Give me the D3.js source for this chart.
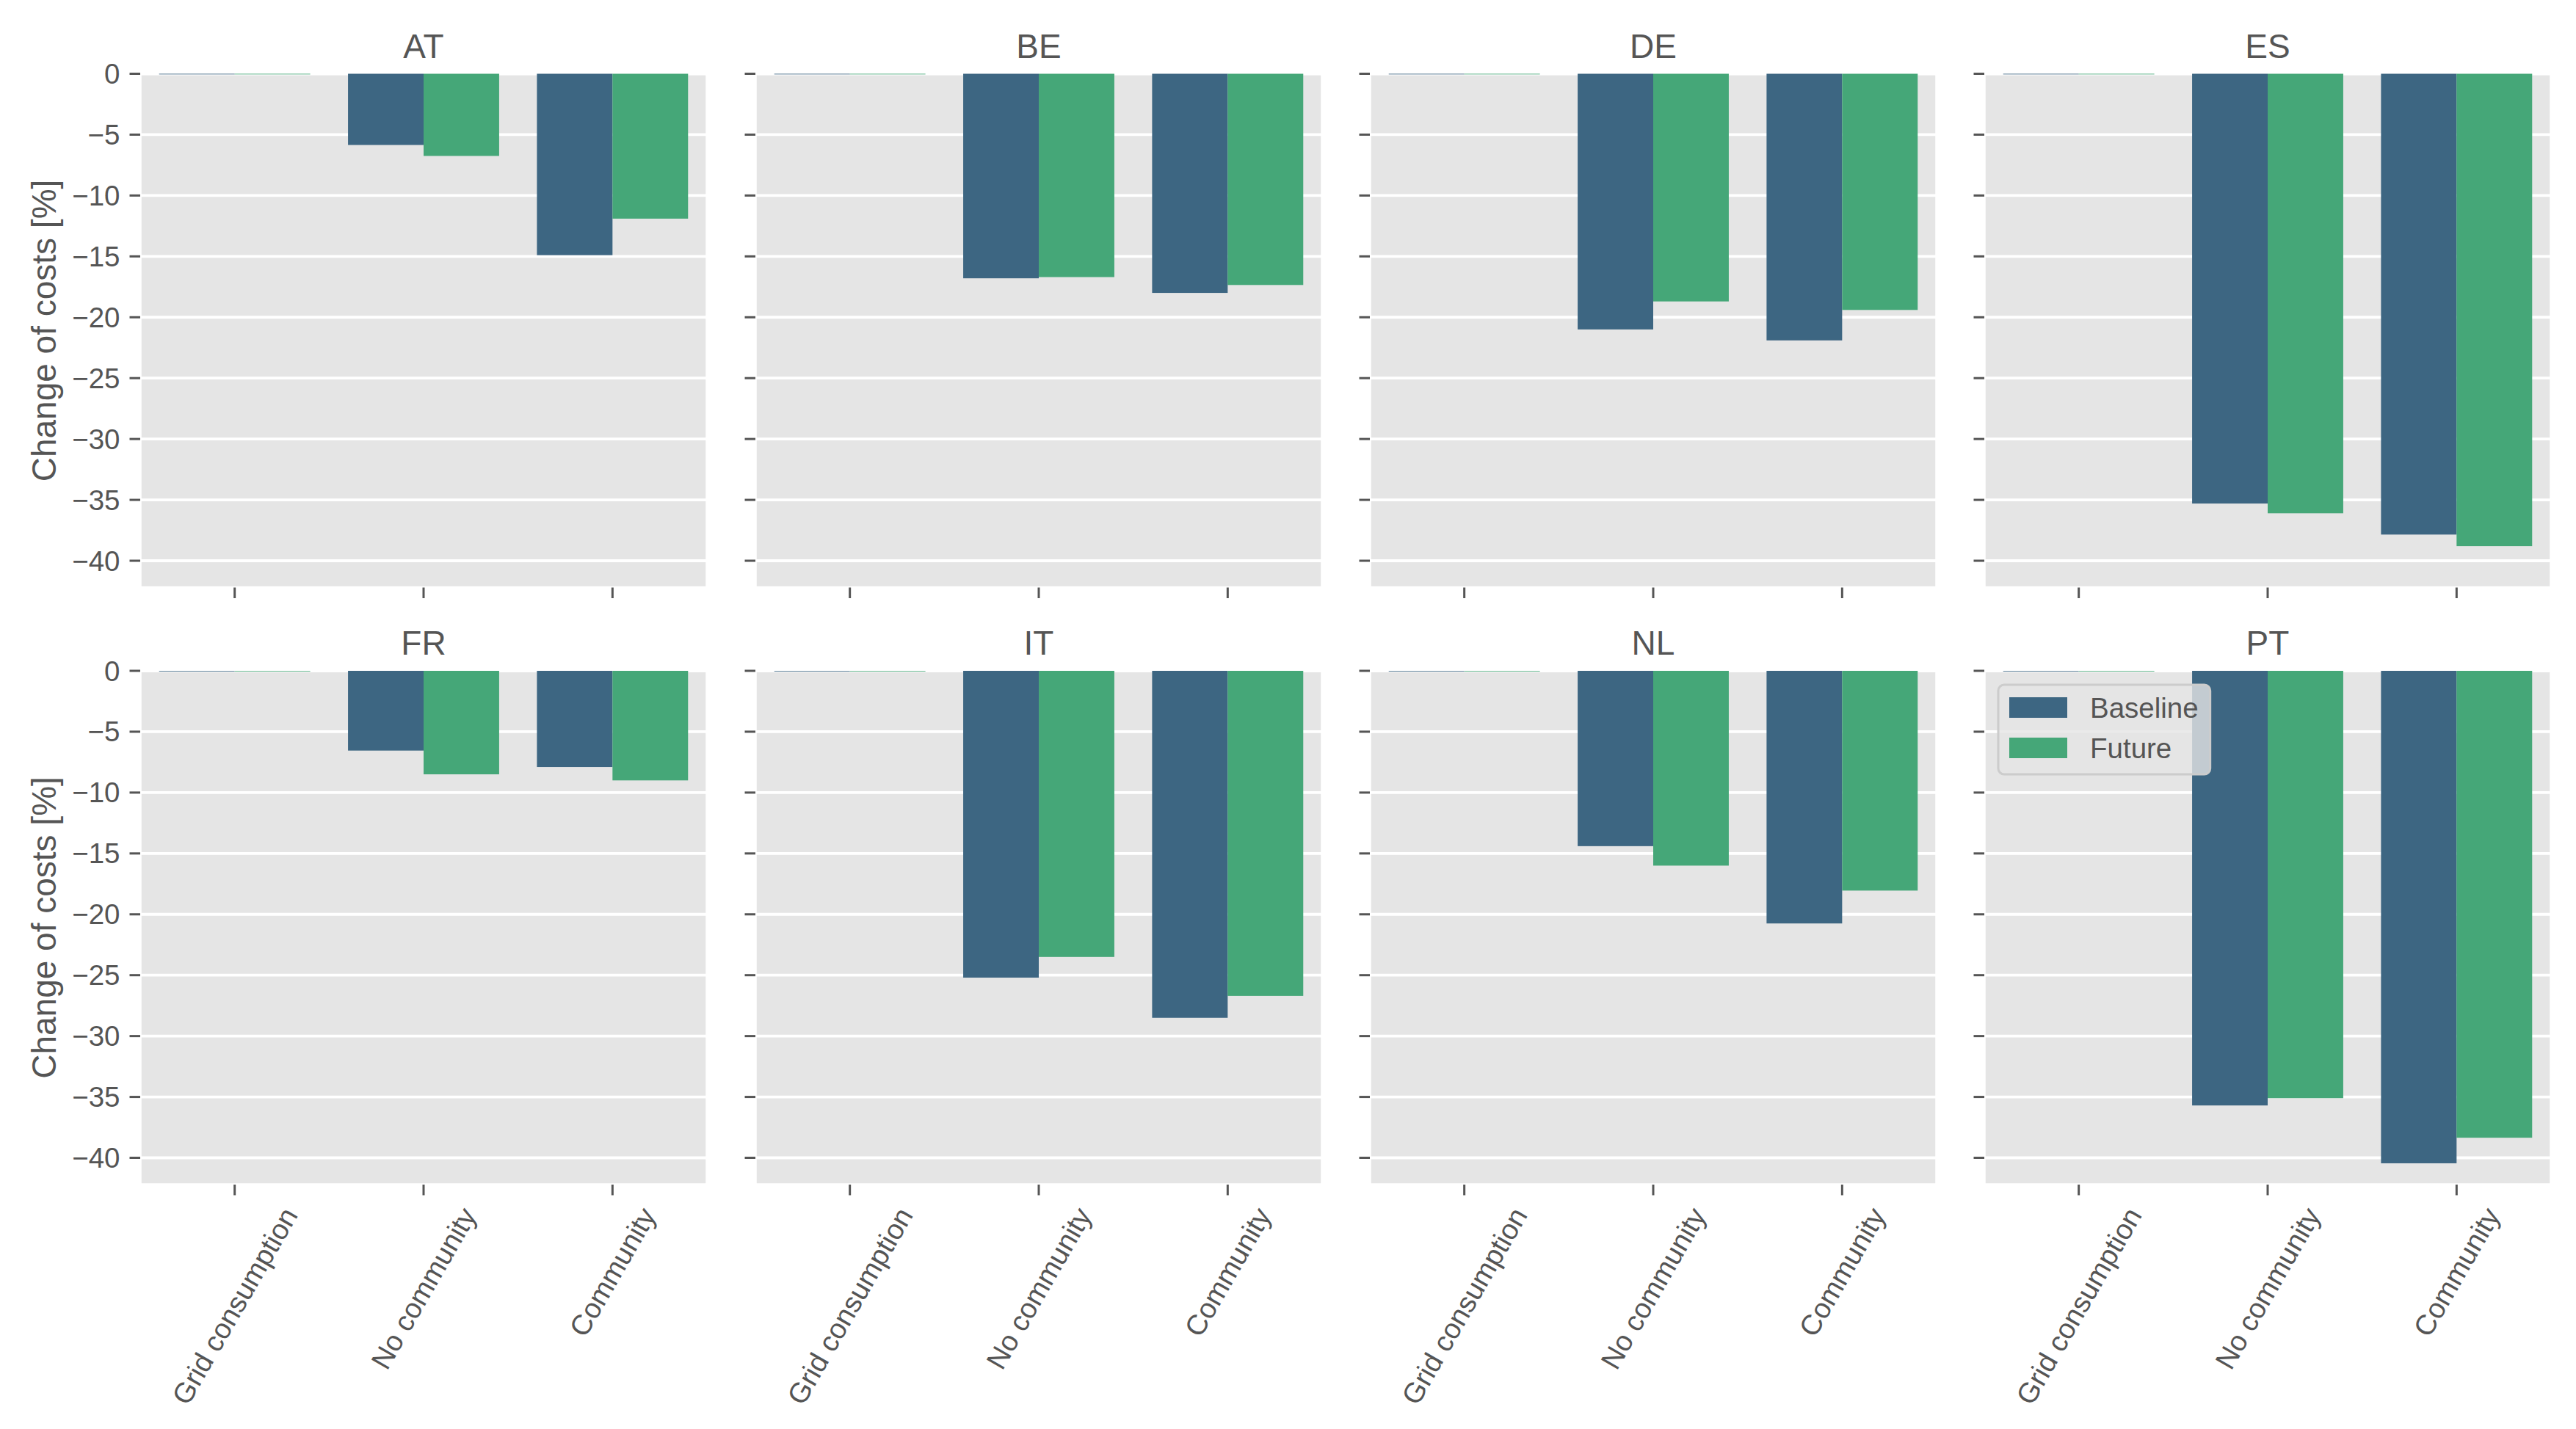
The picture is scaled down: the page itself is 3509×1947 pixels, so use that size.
<!DOCTYPE html>
<html>
<head>
<meta charset="utf-8">
<script src="https://cdn.jsdelivr.net/npm/d3@7"></script>
<style>
  body { margin: 0; background: #fff; }
  text { font-family: "Liberation Sans", Arial, sans-serif; fill: #555555; }
</style>
</head>
<body>
<svg id="chart" width="3509" height="1947"></svg>
<script>
// data
const countries = ["AT", "BE", "DE", "ES", "FR", "IT", "NL", "PT"];
const categories = ["Grid consumption", "No community", "Community"];
const scenarios = ["Baseline", "Future"];
const colors = ["#3d6682", "#45a778"];

// change of costs [%] per country: [grid consumption, no community, community]
const baseline = [
  [-0.05, -5.85, -14.9],
  [-0.05, -16.8, -18.0],
  [-0.05, -21.0, -21.9],
  [-0.05, -35.3, -37.85],
  [-0.05, -6.55, -7.9],
  [-0.05, -25.2, -28.5],
  [-0.05, -14.4, -20.75],
  [-0.05, -35.7, -40.45],
];
const future = [
  [-0.05, -6.75, -11.9],
  [-0.05, -16.7, -17.35],
  [-0.05, -18.7, -19.4],
  [-0.05, -36.1, -38.8],
  [-0.05, -8.5, -9.0],
  [-0.05, -23.5, -26.7],
  [-0.05, -16.0, -18.05],
  [-0.05, -35.1, -38.35],
];
const yTicks = [0, -5, -10, -15, -20, -25, -30, -35, -40];
const yMin = -42.2;

// layout
const svg = d3.select("#chart");
const panelW = 772, panelH = 700;
const colLeft = [191, 1029, 1866, 2703];
const rowTop = [100.5, 914];
const tickLen = 14.5, tickPad = 13;
const fsTick = 38.5, fsTitle = 46, fsLabel = 46;

const x = d3.scaleBand().domain(categories).range([0, panelW])
  .paddingInner(0.2).paddingOuter(0.1);
const xHue = d3.scaleBand().domain(scenarios).range([0, x.bandwidth()]);
const y = d3.scaleLinear().domain([yMin, 0]).range([panelH, 0]);

const fmt = (v) => (v < 0 ? "\u2212" + Math.abs(v) : String(v));

countries.forEach((country, i) => {
  const row = Math.floor(i / 4), col = i % 4;
  const g = svg.append("g")
    .attr("transform", `translate(${colLeft[col]},${rowTop[row]})`);

  // background
  g.append("rect").attr("width", panelW).attr("height", panelH)
    .attr("fill", "#e5e5e5");

  // grid
  g.selectAll("line.grid").data(yTicks).enter().append("line")
    .attr("x1", 0).attr("x2", panelW)
    .attr("y1", (d) => y(d)).attr("y2", (d) => y(d))
    .attr("stroke", "#fff").attr("stroke-width", 3.8);

  // white spines
  g.append("rect").attr("width", panelW).attr("height", panelH)
    .attr("fill", "none").attr("stroke", "#fff").attr("stroke-width", 3.5);

  // bars
  const rows = [];
  categories.forEach((c, k) => {
    rows.push({ cat: c, s: scenarios[0], v: baseline[i][k], color: colors[0] });
    rows.push({ cat: c, s: scenarios[1], v: future[i][k], color: colors[1] });
  });
  g.selectAll("rect.bar").data(rows).enter().append("rect")
    .attr("class", "bar")
    .attr("x", (d) => x(d.cat) + xHue(d.s))
    .attr("width", xHue.bandwidth())
    .attr("y", (d) => Math.min(y(0), y(d.v)))
    .attr("height", (d) => Math.max(0.8, Math.abs(y(d.v) - y(0))))
    .attr("fill", (d) => d.color);

  // y ticks
  g.selectAll("line.ytick").data(yTicks).enter().append("line")
    .attr("x1", -tickLen).attr("x2", 0)
    .attr("y1", (d) => y(d)).attr("y2", (d) => y(d))
    .attr("stroke", "#555").attr("stroke-width", 3);
  if (col === 0) {
    g.selectAll("text.ylab").data(yTicks).enter().append("text")
      .attr("x", -tickLen - tickPad).attr("y", (d) => y(d))
      .attr("text-anchor", "end").attr("dominant-baseline", "central")
      .attr("font-size", fsTick).text(fmt);
    svg.append("text")
      .attr("transform", `translate(60,${rowTop[row] + panelH / 2}) rotate(-90)`)
      .attr("text-anchor", "middle").attr("dominant-baseline", "central")
      .attr("font-size", fsLabel).text("Change of costs [%]");
  }

  // x ticks
  g.selectAll("line.xtick").data(categories).enter().append("line")
    .attr("x1", (d) => x(d) + x.bandwidth() / 2).attr("x2", (d) => x(d) + x.bandwidth() / 2)
    .attr("y1", panelH).attr("y2", panelH + tickLen)
    .attr("stroke", "#555").attr("stroke-width", 3);
  if (row === 1) {
    categories.forEach((c) => {
      const t = g.append("text")
        .attr("text-anchor", "middle").attr("dominant-baseline", "central")
        .attr("font-size", fsTick).text(c);
      const w = t.node().getComputedTextLength();
      const a = Math.PI / 3;
      const bh = w * Math.sin(a) + fsTick * 0.75 * Math.cos(a);
      const cy = panelH + tickLen + tickPad + bh / 2;
      t.attr("transform", `translate(${x(c) + x.bandwidth() / 2},${cy}) rotate(-60)`);
    });
  }

  // title
  g.append("text").attr("x", panelW / 2).attr("y", -22)
    .attr("text-anchor", "middle").attr("font-size", fsTitle).text(country);

  // legend in the last panel
  if (i === countries.length - 1) {
    const lg = g.append("g").attr("transform", "translate(19,19)");
    const box = lg.append("rect").attr("rx", 8).attr("ry", 8)
      .attr("fill", "#e5e5e5").attr("fill-opacity", 0.8)
      .attr("stroke", "#cccccc").attr("stroke-width", 3);
    let maxW = 0;
    scenarios.forEach((s, k) => {
      const cy = 31 + k * 55;
      lg.append("rect").attr("x", 15).attr("y", cy - 14)
        .attr("width", 79).attr("height", 28).attr("fill", colors[k]);
      const t = lg.append("text").attr("x", 125).attr("y", cy)
        .attr("dominant-baseline", "central").attr("font-size", fsTick).text(s);
      maxW = Math.max(maxW, t.node().getComputedTextLength());
    });
    box.attr("width", 125 + maxW + 16).attr("height", 122);
  }
});
</script>
</body>
</html>
